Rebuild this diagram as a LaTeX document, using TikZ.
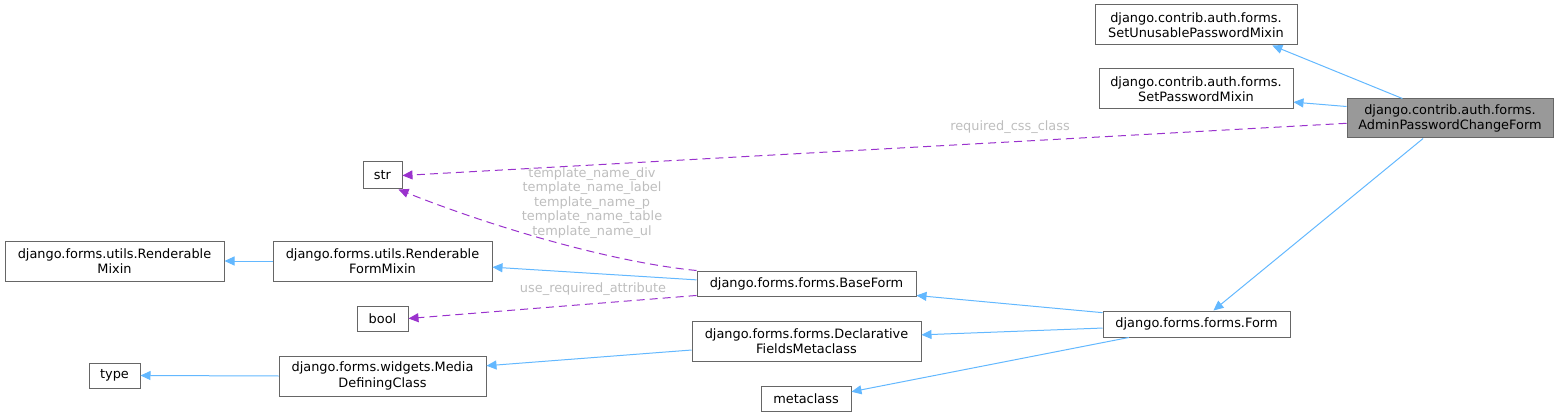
\documentclass[tikz,border=0pt]{standalone}
\usepackage{fontspec}
\setmainfont{DejaVu Sans}
\usetikzlibrary{arrows.meta,calc}
\definecolor{edgeblue}{HTML}{63B8FF}
\definecolor{edgepurple}{HTML}{9A32CD}
\definecolor{boxline}{HTML}{666666}
\definecolor{boxfill}{HTML}{999999}
\definecolor{lblgray}{HTML}{BEBEBE}
\tikzset{
  cls/.style={draw=boxline, line width=1pt, fill=white, inner sep=0pt, align=center,
    font=\fontsize{12.9}{15.5}\selectfont, text=black},
  inh/.style={draw=edgeblue, line width=1pt, -{Triangle[length=10pt,width=9pt]}},
  usage/.style={draw=edgepurple, line width=1pt, dash pattern=on 8pt off 5pt, -{Triangle[length=10pt,width=9pt]}},
  elabel/.style={text=lblgray, font=\fontsize{12.9}{14.5}\selectfont, align=center, inner sep=0pt}
}
\begin{document}
\begin{tikzpicture}[x=1pt,y=-1pt]
\useasboundingbox (0,0) rectangle (1559,417);
% nodes
\node[cls, minimum width=202pt, minimum height=40pt] (unus) at (1196,25) {django.contrib.auth.forms.\\SetUnusablePasswordMixin};
\node[cls, minimum width=194pt, minimum height=40pt] (setpw) at (1196,89) {django.contrib.auth.forms.\\SetPasswordMixin};
\node[cls, fill=boxfill, minimum width=206pt, minimum height=39pt] (admin) at (1450,118.5) {django.contrib.auth.forms.\\AdminPasswordChangeForm};
\node[cls, minimum width=39pt, minimum height=27pt] (str) at (382.5,175.5) {str};
\node[cls, minimum width=219pt, minimum height=40pt] (rmix) at (114.5,261) {django.forms.utils.Renderable\\Mixin};
\node[cls, minimum width=219pt, minimum height=40pt] (rfmix) at (382.5,261) {django.forms.utils.Renderable\\FormMixin};
\node[cls, minimum width=51pt, minimum height=25pt] (bool) at (382.5,318.5) {bool};
\node[cls, minimum width=51pt, minimum height=25pt] (type) at (114.5,375.5) {type};
\node[cls, minimum width=207pt, minimum height=40pt] (mdc) at (382.5,376) {django.forms.widgets.Media\\DefiningClass};
\node[cls, minimum width=219pt, minimum height=25pt] (basef) at (806.5,283.5) {django.forms.forms.BaseForm};
\node[cls, minimum width=229pt, minimum height=40pt] (decl) at (806.5,341) {django.forms.forms.Declarative\\FieldsMetaclass};
\node[cls, minimum width=90pt, minimum height=25pt] (meta) at (806,398.5) {metaclass};
\node[cls, minimum width=187pt, minimum height=26pt] (form) at (1196.5,324) {django.forms.forms.Form};
% connectors
\draw[inh] ($(admin.north west)!0.27!(admin.north east)$) -- ($(unus.south west)!0.876!(unus.south east)$);
\draw[inh] ($(admin.north west)!0.2!(admin.south west)$) -- ($(setpw.north east)!0.82!(setpw.south east)$);
\draw[usage] ($(admin.north west)!0.62!(admin.south west)$) -- (str.east);
\draw[inh] ($(admin.south west)!0.37!(admin.south east)$) -- ($(form.north west)!0.59!(form.north east)$);
\draw[usage] (basef.north west) .. controls (610,262) and (490,226) .. ($(str.south east)!0.1!(str.south west)$);
\draw[inh] ($(basef.north west)!0.36!(basef.south west)$) -- ($(rfmix.north east)!0.65!(rfmix.south east)$);
\draw[usage] ($(basef.north west)!0.96!(basef.south west)$) -- (bool.east);
\draw[inh] (rfmix.west) -- (rmix.east);
\draw[inh] ($(form.north west)!0.08!(form.south west)$) -- ($(basef.north east)!0.96!(basef.south east)$);
\draw[inh] ($(form.north west)!0.65!(form.south west)$) -- ($(decl.north east)!0.35!(decl.south east)$);
\draw[inh] ($(form.south west)!0.14!(form.south east)$) -- ($(meta.north east)!0.24!(meta.south east)$);
\draw[inh] ($(decl.north west)!0.72!(decl.south west)$) -- ($(mdc.north east)!0.25!(mdc.south east)$);
\draw[inh] (mdc.west) -- (type.east);
% edge labels
\node[elabel] (rlbl) at (1010,127) {required\_css\_class};
\node[elabel] (tlbl) at (592,203) {template\_name\_div\\template\_name\_label\\template\_name\_p\\template\_name\_table\\template\_name\_ul};
\node[elabel] (ulbl) at (593,289) {use\_required\_attribute};
\end{tikzpicture}
\end{document}
